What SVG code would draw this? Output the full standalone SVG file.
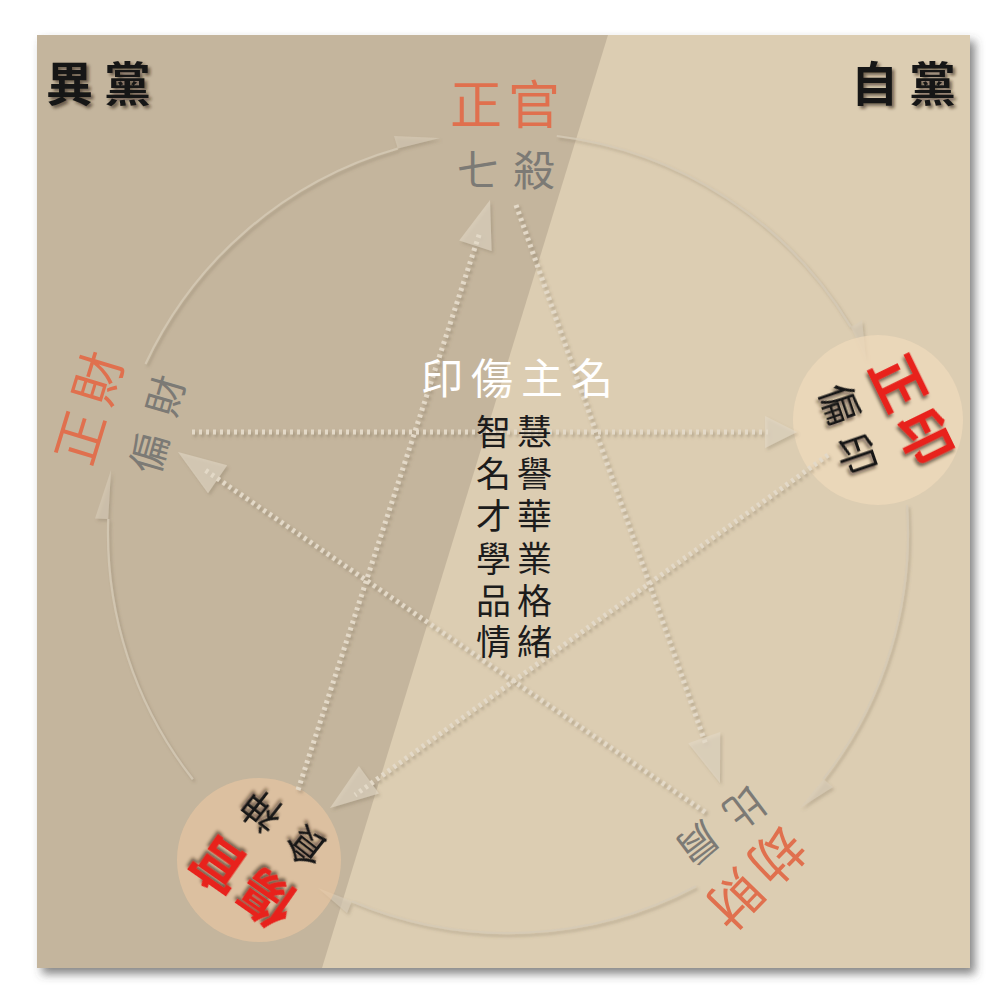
<svg xmlns="http://www.w3.org/2000/svg" width="1004" height="1004" viewBox="0 0 1004 1004">
<defs>
<filter id="panelShadow" x="-5%" y="-5%" width="115%" height="115%">
<feDropShadow dx="5" dy="6" stdDeviation="5" flood-color="#444" flood-opacity="0.65"/>
</filter>
<filter id="emboss" x="-10%" y="-10%" width="120%" height="120%">
<feDropShadow dx="2" dy="2.5" stdDeviation="1.6" flood-color="#6f604a" flood-opacity="0.4"/>
</filter>
<filter id="txtShadow" x="-20%" y="-20%" width="140%" height="140%">
<feDropShadow dx="2.5" dy="2.5" stdDeviation="1.8" flood-color="#2a2218" flood-opacity="0.6"/>
</filter>
<style>
.cjk{font-family:"Noto Sans CJK TC","Noto Sans CJK SC",sans-serif;}
.party{font-size:47px;font-weight:700;fill:#151515;letter-spacing:11px;}
.orange{fill:#e0704e;}
.gray{fill:#7c7a75;}
.red{fill:#e8221c;font-weight:700;}
.black{fill:#151515;}
.arc{fill:none;stroke:#d6cbb6;stroke-width:2.2;stroke-opacity:0.8;}
.wedge{fill:#d8cdb9;fill-opacity:0.6;}
.dot{fill:none;stroke:#e3d9c8;stroke-width:5;stroke-dasharray:3 4;}
.head{fill:#e2d8c6;fill-opacity:0.6;}
.col{font-size:35px;fill:#1c1c1c;letter-spacing:6px;}
</style>
</defs>

<rect width="1004" height="1004" fill="#ffffff"/>
<g id="panel">
<rect x="37" y="35" width="933" height="933" fill="#dccdb2" filter="url(#panelShadow)"/>
<polygon points="37,35 608,35 322,968 37,968" fill="#c4b59d"/>
</g>

<g id="cycle" filter="url(#emboss)">
<path class="arc" d="M556.8,136 A400,400 0 0 1 850.9,327"/>
<polygon class="wedge" points="850.9,327 862,320 866,360"/>
<path class="arc" d="M907,505 A400,400 0 0 1 823.2,779.3"/>
<polygon class="wedge" points="823.2,779.3 833,787 800,808"/>
<path class="arc" d="M695.8,886.2 A400,400 0 0 1 351.7,901.2"/>
<polygon class="wedge" points="351.7,901.2 347,913 318,888"/>
<path class="arc" d="M192.8,779.3 A400,400 0 0 1 108.2,519"/>
<polygon class="wedge" points="108.2,519 95,518.5 111,470"/>
<path class="arc" d="M145.5,364 A400,400 0 0 1 397.8,148.5"/>
<polygon class="wedge" points="397.8,148.5 394,136 440,138"/>
</g>

<g id="node-zhengyin-bg"><circle cx="878" cy="420" r="85" fill="#efd9bb" fill-opacity="0.75"/></g>
<g id="node-shangguan-bg"><circle cx="259" cy="860" r="82" fill="#ecc8a2" fill-opacity="0.6"/></g>

<g id="connectors" filter="url(#emboss)">
<line class="dot" x1="516" y1="205" x2="706" y2="745"/>
<polygon class="head" points="720,783 720.2,732.1 688.2,743.3"/>
<line class="dot" x1="192" y1="432" x2="768" y2="432"/>
<polygon class="head" points="797,432 765,416 765,448"/>
<line class="dot" x1="828" y1="455" x2="355" y2="795"/>
<polygon class="head" points="330,808 378.9,793.6 358.9,766"/>
<line class="dot" x1="298" y1="790" x2="480" y2="232"/>
<polygon class="head" points="490,200 491.6,250.9 459.2,240.5"/>
<line class="dot" x1="705" y1="812" x2="205" y2="470"/>
<polygon class="head" points="178,452 208,493.2 227.2,465.2"/>
</g>

<g id="label-yidang"><text class="cjk party" x="46" y="101" filter="url(#txtShadow)">異黨</text></g>
<g id="label-zidang"><text class="cjk party" x="851" y="101" filter="url(#txtShadow)">自黨</text></g>

<g id="node-zhengguan">
<text class="cjk orange" x="508" y="124" font-size="52" text-anchor="middle" letter-spacing="6">正官</text>
<text class="cjk gray" x="513" y="186" font-size="42" text-anchor="middle" letter-spacing="14">七殺</text>
</g>

<g id="node-zhengyin">
<text class="cjk red" font-size="54" text-anchor="middle" dominant-baseline="central" letter-spacing="6" transform="translate(915,408) rotate(64)" x="3" filter="url(#txtShadow)">正印</text>
<text class="cjk black" font-size="40" text-anchor="middle" dominant-baseline="central" letter-spacing="13" transform="translate(850.5,428) rotate(71)" x="6.5" filter="url(#txtShadow)">偏印</text>
</g>

<g id="node-jiecai">
<text class="cjk orange" font-size="54" text-anchor="middle" dominant-baseline="central" letter-spacing="7" transform="translate(758.5,880) rotate(134)" x="3.5">劫財</text>
<text class="cjk gray" font-size="40" text-anchor="middle" dominant-baseline="central" letter-spacing="19" transform="translate(722.5,827) rotate(143)" x="9.5">比肩</text>
</g>

<g id="node-shangguan">
<text class="cjk red" font-size="54" text-anchor="middle" dominant-baseline="central" letter-spacing="5" transform="translate(241,885) rotate(215)" x="2.5" filter="url(#txtShadow)">傷官</text>
<text class="cjk black" font-size="40" text-anchor="middle" dominant-baseline="central" letter-spacing="17" transform="translate(282.5,830.5) rotate(218)" x="8.5" filter="url(#txtShadow)">食神</text>
</g>

<g id="node-zhengcai">
<text class="cjk orange" font-size="52" text-anchor="middle" dominant-baseline="central" letter-spacing="10" transform="translate(86,407) rotate(-73)" x="5">正財</text>
<text class="cjk gray" font-size="40" text-anchor="middle" dominant-baseline="central" letter-spacing="20" transform="translate(155.5,424) rotate(-74)" x="10">偏財</text>
</g>

<g id="center-title">
<text class="cjk" x="521" y="394" font-size="42" fill="#ffffff" text-anchor="middle" letter-spacing="8">印傷主名</text>
<text class="cjk col" x="517" y="445" text-anchor="middle">智慧</text>
<text class="cjk col" x="517" y="487" text-anchor="middle">名譽</text>
<text class="cjk col" x="517" y="529" text-anchor="middle">才華</text>
<text class="cjk col" x="517" y="572" text-anchor="middle">學業</text>
<text class="cjk col" x="517" y="614" text-anchor="middle">品格</text>
<text class="cjk col" x="517" y="655" text-anchor="middle">情緒</text>
</g>
</svg>
